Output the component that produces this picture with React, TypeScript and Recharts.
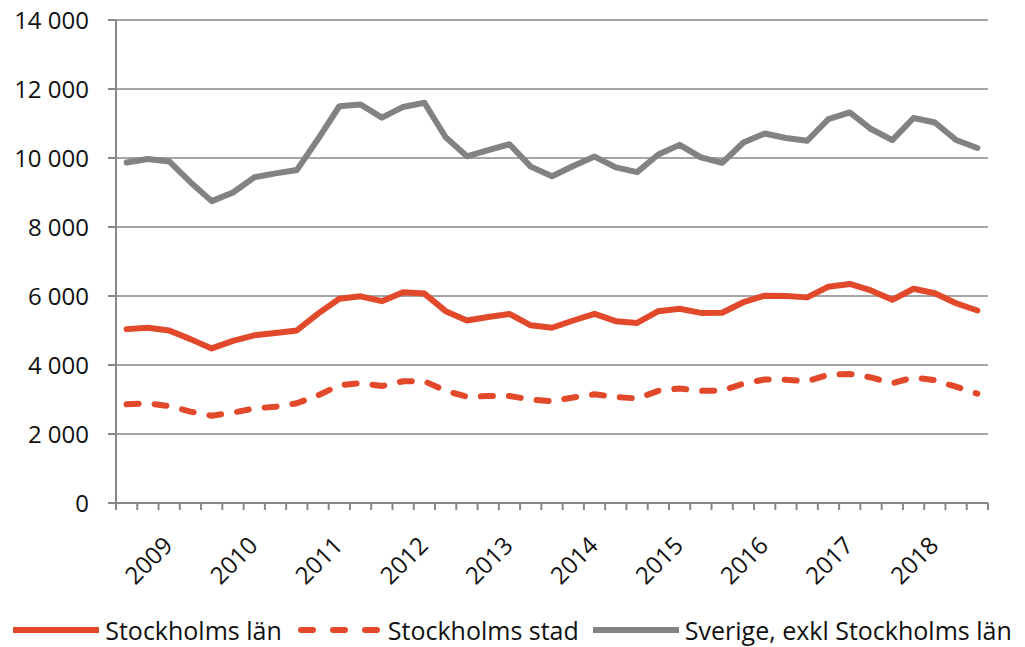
import React from "react";
import { CartesianGrid, Legend, Line, LineChart, XAxis, YAxis } from "recharts";

// quarterly values, 41 points
const lanValues = [
  5040, 5080, 5000, 4750, 4480, 4700, 4860, 4930, 5000, 5490, 5920, 5990, 5850, 6110, 6070, 5560, 5290, 5390, 5480, 5150,
  5080, 5290, 5480, 5270, 5220, 5560, 5630, 5510, 5515, 5820, 6010, 6000, 5960, 6270, 6350, 6160, 5890, 6210, 6080, 5790,
  5580,
];
const stadValues = [
  2860, 2890, 2810, 2650, 2530, 2620, 2740, 2790, 2890, 3120, 3410, 3480, 3390, 3530, 3530, 3250, 3080, 3100, 3100, 3000,
  2950, 3060, 3150, 3070, 3030, 3250, 3320, 3250, 3260, 3460, 3580, 3570, 3530, 3720, 3740, 3640, 3470, 3640, 3560, 3370,
  3170,
];
const sverigeValues = [
  9870, 9970, 9900, 9300, 8750, 9000, 9440, 9555, 9650, 10550, 11500, 11550, 11170, 11480, 11600, 10600, 10050, 10230,
  10400, 9750, 9470, 9770, 10040, 9730, 9590, 10100, 10380, 10020, 9860, 10450, 10710, 10580, 10500, 11130, 11320, 10840,
  10520, 11160, 11030, 10520, 10290,
];

const yearLabels = ["2009", "2010", "2011", "2012", "2013", "2014", "2015", "2016", "2017", "2018"];
const yearTickIndex = [2, 6, 10, 14, 18, 22, 26, 30, 34, 38];
const yTicks = [0, 2000, 4000, 6000, 8000, 10000, 12000, 14000];

const SERIES = [
  { key: "lan", name: "Stockholms län", color: "#E2492B", dash: undefined as string | undefined },
  { key: "stad", name: "Stockholms stad", color: "#E2492B", dash: "12 16" },
  { key: "sverige", name: "Sverige, exkl Stockholms län", color: "#828282", dash: undefined },
];

const AXIS_GRAY = "#878787";
const FONT = "'Open Sans', sans-serif";

const data = lanValues.map((v, i) => ({
  idx: i,
  lan: v,
  stad: stadValues[i],
  sverige: sverigeValues[i],
}));

// tick marks sit on category boundaries, year labels on category centres
const boundaryTicks = Array.from({ length: data.length + 1 }, (_, i) => i - 0.5);
const xTicks = [...boundaryTicks, ...yearTickIndex];

const fmtThousands = (v: number) => String(v).replace(/\B(?=(\d{3})+(?!\d))/g, " ");

function XTick(props: any) {
  const { x, y, payload } = props;
  const v = payload.value as number;
  if (!Number.isInteger(v)) {
    return <line x1={x} y1={y} x2={x} y2={y + 7} stroke={AXIS_GRAY} strokeWidth={2} />;
  }
  const label = yearLabels[yearTickIndex.indexOf(v)];
  const ax = x + 5;
  const ay = y + 44;
  return (
    <text
      x={ax}
      y={ay}
      textAnchor="end"
      transform={`rotate(-45 ${ax} ${ay})`}
      fill="#111"
      fontSize={24}
      fontFamily={FONT}
    >
      {label}
    </text>
  );
}

function LegendContent() {
  return (
    <div
      style={{
        height: 34,
        display: "flex",
        alignItems: "center",
        justifyContent: "center",
        fontFamily: FONT,
        fontSize: 25,
        color: "#111",
      }}
    >
      {SERIES.map((s, i) => (
        <div
          key={s.key}
          style={{ display: "flex", alignItems: "center", marginRight: i < SERIES.length - 1 ? 14 : 0 }}
        >
          <svg width={86} height={10} style={{ marginRight: 6 }}>
            <line
              x1={s.dash ? 5 : 0}
              y1={5}
              x2={s.dash ? 81 : 86}
              y2={5}
              stroke={s.color}
              strokeWidth={6}
              strokeDasharray={s.dash ? "12 20" : undefined}
              strokeLinecap={s.dash ? "round" : "butt"}
            />
          </svg>
          <span>{s.name}</span>
        </div>
      ))}
    </div>
  );
}

export default function App() {
  return (
    <div style={{ position: "absolute", left: 0, top: 0, background: "#fff" }}>
      <LineChart width={1025} height={647} data={data} margin={{ top: 20, right: 37, left: 0, bottom: 0 }}>
        <CartesianGrid vertical={false} stroke={AXIS_GRAY} strokeWidth={1.5} />
        <XAxis
          dataKey="idx"
          type="number"
          domain={[-0.5, data.length - 0.5]}
          ticks={xTicks}
          interval={0}
          tick={<XTick />}
          tickLine={false}
          tickSize={0}
          tickMargin={0}
          axisLine={{ stroke: AXIS_GRAY, strokeWidth: 2 }}
          height={110}
        />
        <YAxis
          domain={[0, 14000]}
          ticks={yTicks}
          interval={0}
          width={116}
          tickFormatter={fmtThousands}
          tick={{ fill: "#111", fontSize: 24, fontFamily: FONT }}
          tickSize={8}
          tickMargin={19}
          tickLine={{ stroke: AXIS_GRAY, strokeWidth: 2 }}
          axisLine={{ stroke: AXIS_GRAY, strokeWidth: 2 }}
        />
        <Legend verticalAlign="bottom" content={<LegendContent />} wrapperStyle={{ left: 0, width: 1025 }} />
        {SERIES.map((s) => (
          <Line
            key={s.key}
            type="linear"
            dataKey={s.key}
            name={s.name}
            stroke={s.color}
            strokeWidth={6}
            strokeDasharray={s.dash}
            strokeLinecap="round"
            strokeLinejoin="round"
            dot={false}
            activeDot={false}
            isAnimationActive={false}
          />
        ))}
      </LineChart>
    </div>
  );
}
